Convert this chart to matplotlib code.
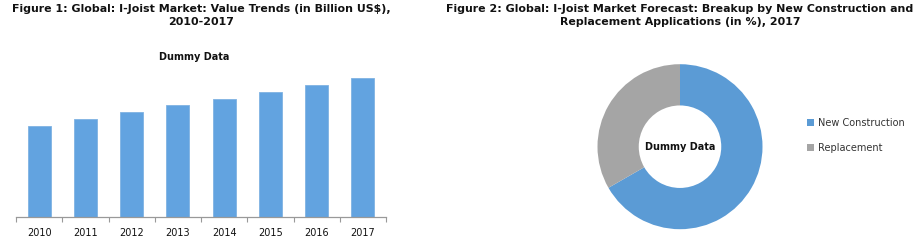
import matplotlib
matplotlib.use("Agg")
import matplotlib.pyplot as plt
from matplotlib.patches import Patch

W, H = 918, 247
years = ["2010", "2011", "2012", "2013", "2014", "2015", "2016", "2017"]
values = [91, 98, 105, 112, 118, 125, 132, 139]
segments = ["New Construction", "Replacement"]
shares = [66.7, 33.3]

bar_color = "#62a3e0"
blue = "#5b9bd5"
gray = "#a5a5a5"

fig = plt.figure(figsize=(W / 100, H / 100), dpi=100)
fig.patch.set_facecolor("white")

def fx(px):
    return px / W

def fy(py):
    return 1 - py / H

title_font = dict(family="DejaVu Sans", fontweight="bold", fontsize=7.9, color="#111111")
fig.text(fx(201), fy(9), "Figure 1: Global: I-Joist Market: Value Trends (in Billion US$),",
         ha="center", va="center", **title_font)
fig.text(fx(201), fy(22), "2010-2017", ha="center", va="center", **title_font)
fig.text(fx(680), fy(9), "Figure 2: Global: I-Joist Market Forecast: Breakup by New Construction and",
         ha="center", va="center", **title_font)
fig.text(fx(680), fy(22), "Replacement Applications (in %), 2017", ha="center", va="center", **title_font)

# Bar chart
ax = fig.add_axes([fx(16), fy(217), fx(386) - fx(16), fy(70) - fy(217)])
x = list(range(len(years)))
ax.bar(x, values, width=0.5, color=bar_color, edgecolor="#7fb3e3", linewidth=0.6)
ax.set_xlim(-0.5, len(years) - 0.5)
ax.set_ylim(0, 147)
ax.set_xticks(x)
ax.set_xticklabels(years, fontsize=7, family="DejaVu Sans", color="#111111")
ax.set_xticks([i - 0.5 for i in range(len(years) + 1)], minor=True)
ax.tick_params(axis="x", which="major", length=0, pad=8)
ax.tick_params(axis="x", which="minor", length=3.5, color="#999999", width=0.8)
ax.set_yticks([])
for s in ["top", "left", "right"]:
    ax.spines[s].set_visible(False)
ax.spines["bottom"].set_color("#999999")
ax.spines["bottom"].set_linewidth(0.9)
fig.text(fx(194), fy(57), "Dummy Data", ha="center", va="center", fontsize=7,
         fontweight="bold", family="DejaVu Sans", color="#111111")

# Donut chart
r = 82.5
cx, cy = 680, 146.7
pax = fig.add_axes([fx(cx - r), fy(cy + r), (2 * r) / W, (2 * r) / H])
pax.pie(shares, colors=[blue, gray], startangle=90, counterclock=False, radius=1,
        wedgeprops=dict(width=0.5, edgecolor="none"))
pax.set_xlim(-1, 1)
pax.set_ylim(-1, 1)
pax.set_aspect("equal")
pax.axis("off")
pax.text(0, 0, "Dummy Data", ha="center", va="center", fontsize=7, fontweight="bold",
         family="DejaVu Sans", color="#111111")

handles = [Patch(facecolor=blue, edgecolor="none"), Patch(facecolor=gray, edgecolor="none")]
fig.legend(handles, segments, loc="upper left", bbox_to_anchor=(fx(803), fy(114)),
           frameon=False, handlelength=0.7, handleheight=0.7,
           handletextpad=0.4, labelspacing=1.55, borderaxespad=0,
           prop={"family": "DejaVu Sans", "size": 7}, labelcolor="#333333")

fig.savefig("out.png", dpi=100, facecolor="white")
